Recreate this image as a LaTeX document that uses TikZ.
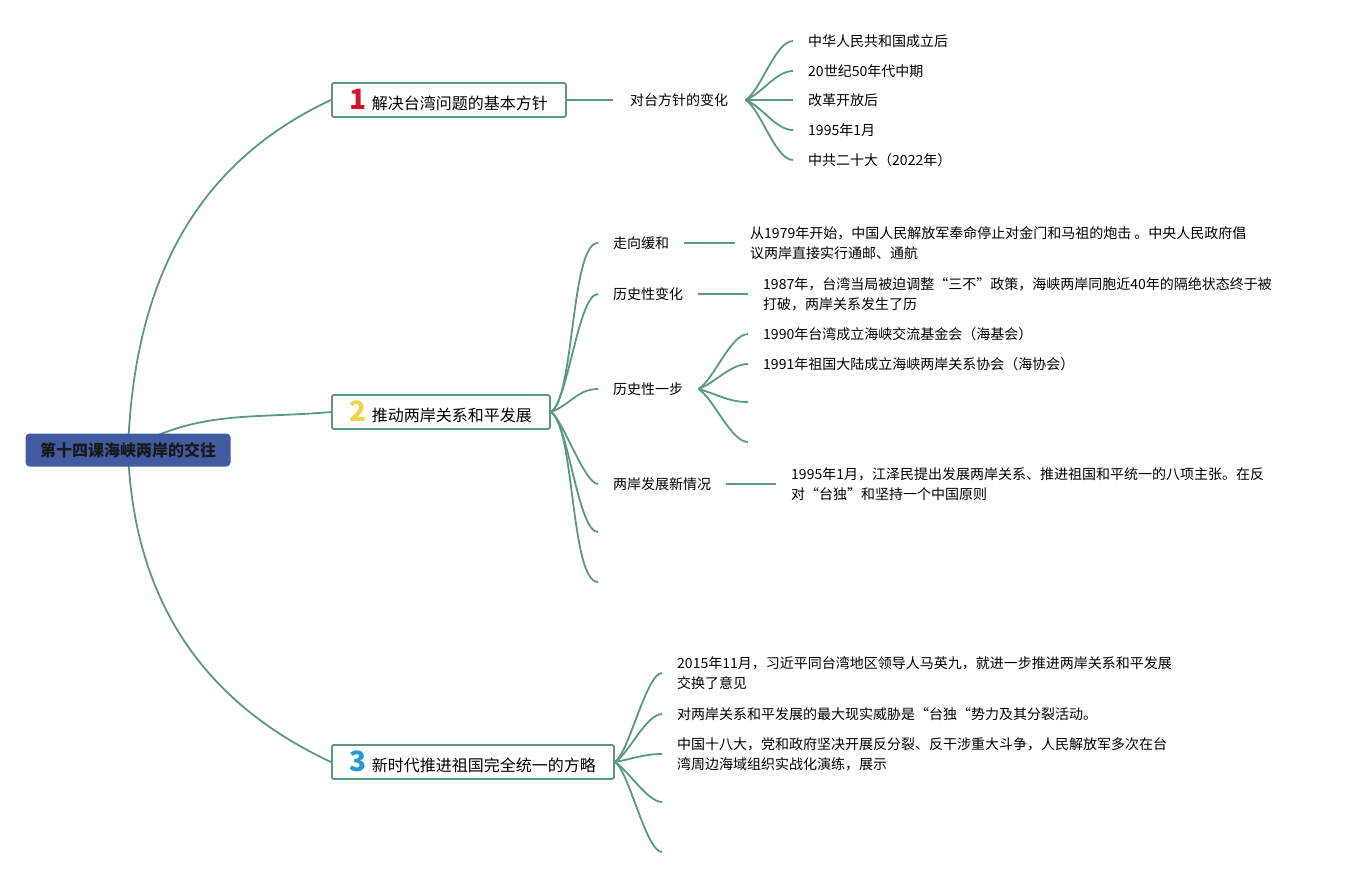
\documentclass[tikz,border=0pt]{standalone}
\usepackage{fontspec}
\setmainfont{Noto Sans CJK SC}
\usetikzlibrary{backgrounds}

\definecolor{linegreen}{RGB}{90,152,130}
\definecolor{rootblue}{RGB}{66,90,160}
\definecolor{numred}{RGB}{208,20,43}
\definecolor{numyellow}{RGB}{240,212,78}
\definecolor{numblue}{RGB}{38,152,216}
\newcommand{\topicnum}[2]{{\fontsize{28}{28}\selectfont\bfseries\color{#1}#2}\hspace{5pt}}

\begin{document}
\begin{tikzpicture}[x=1pt,y=1pt,
	root/.style={rectangle, rounded corners=4pt, fill=rootblue, text=black!90, font=\fontsize{16}{16}\selectfont\bfseries, minimum width=205pt, minimum height=33pt},
	topic/.style={rectangle, draw=linegreen, line width=1.8pt, fill=white, rounded corners=1.5pt, font=\fontsize{16}{20}\selectfont, minimum height=34pt, inner xsep=18pt, inner ysep=2pt, anchor=west},
	leaf/.style={font=\fontsize{14}{20}\selectfont, inner xsep=15pt, inner ysep=0pt, anchor=west, align=left},
	conn/.style={linegreen, line width=1.8pt},
	fan/.style={in=180, looseness=0.4}]
	\useasboundingbox (0,0) rectangle (1351,-878);

	\node[root] (0) at (128,-450) {第十四课海峡两岸的交往};
	\node[topic] (1) at (331,-100) {\topicnum{numred}{1}解决台湾问题的基本方针};
	\node[topic] (2) at (331,-412) {\topicnum{numyellow}{2}推动两岸关系和平发展};
	\node[topic] (3) at (331,-762) {\topicnum{numblue}{3}新时代推进祖国完全统一的方略};

	\node[leaf, inner xsep=17pt] (1-1) at (613,-100) {对台方针的变化};
	\node[leaf] (1-1-1) at (793,-41) {中华人民共和国成立后};
	\node[leaf] (1-1-2) at (793,-71) {20世纪50年代中期};
	\node[leaf] (1-1-3) at (793,-100) {改革开放后};
	\node[leaf] (1-1-4) at (793,-130) {1995年1月};
	\node[leaf] (1-1-5) at (793,-160) {中共二十大（2022年）};

	\node[leaf] (2-1) at (598,-243) {走向缓和};
	\node[leaf] (2-1-1) at (735,-243) {从1979年开始，中国人民解放军奉命停止对金门和马祖的炮击 。中央人民政府倡\\议两岸直接实行通邮、通航};
	\node[leaf] (2-2) at (598,-294) {历史性变化};
	\node[leaf] (2-2-1) at (748,-294) {1987年，台湾当局被迫调整“三不”政策，海峡两岸同胞近40年的隔绝状态终于被\\打破，两岸关系发生了历};
	\node[leaf] (2-3) at (598,-389) {历史性一步};
	\node[leaf] (2-3-1) at (748,-334) {1990年台湾成立海峡交流基金会（海基会）};
	\node[leaf] (2-3-2) at (748,-364) {1991年祖国大陆成立海峡两岸关系协会（海协会）};
	\coordinate (2-3-3) at (748,-402);
	\coordinate (2-3-4) at (748,-442);
	\node[leaf] (2-4) at (598,-484) {两岸发展新情况};
	\node[leaf] (2-4-1) at (776,-484) {1995年1月，江泽民提出发展两岸关系、推进祖国和平统一的八项主张。在反\\对“台独”和坚持一个中国原则};
	\coordinate (2-5) at (598,-532);
	\coordinate (2-6) at (598,-582);

	\node[leaf] (3-1) at (662,-673) {2015年11月，习近平同台湾地区领导人马英九，就进一步推进两岸关系和平发展\\交换了意见};
	\node[leaf] (3-2) at (662,-714) {对两岸关系和平发展的最大现实威胁是“台独“势力及其分裂活动。};
	\node[leaf] (3-3) at (662,-754) {中国十八大，党和政府坚决开展反分裂、反干涉重大斗争，人民解放军多次在台\\湾周边海域组织实战化演练，展示};
	\coordinate (3-4) at (662,-802);
	\coordinate (3-5) at (662,-852);

	\begin{scope}[on background layer]
	% root
	\draw[conn] (0.center) to [out=88,in=205] (1.west);
	\draw[conn] (0.center) to [out=30,in=185] (2.west);
	\draw[conn] (0.center) to [out=-88,in=155] (3.west);
	\end{scope}
	% topic 1
	\draw[conn] (1.east) -- (1-1.west);
	\draw[conn] (1-1.east) to [fan,out=30,looseness=0.6] (1-1-1.west);
	\draw[conn] (1-1.east) to [fan,out=20,looseness=0.8] (1-1-2.west);
	\draw[conn] (1-1.east) -- (1-1-3.west);
	\draw[conn] (1-1.east) to [fan,out=-20,looseness=0.8] (1-1-4.west);
	\draw[conn] (1-1.east) to [fan,out=-30,looseness=0.6] (1-1-5.west);
	% topic 2
	\draw[conn] (2.east) to [fan,out=30] (2-1.west);
	\draw[conn] (2.east) to [fan,out=30] (2-2.west);
	\draw[conn] (2.east) to [fan,out=20,looseness=1] (2-3.west);
	\draw[conn] (2.east) to [fan,out=-30] (2-4.west);
	\draw[conn] (2.east) to [fan,out=-30] (2-5);
	\draw[conn] (2.east) to [fan,out=-30] (2-6);
	\draw[conn] (2-1.east) -- (2-1-1.west);
	\draw[conn] (2-2.east) -- (2-2-1.west);
	\draw[conn] (2-3.east) to [fan,out=30,looseness=0.6] (2-3-1.west);
	\draw[conn] (2-3.east) to [fan,out=20,looseness=0.8] (2-3-2.west);
	\draw[conn] (2-3.east) to [fan,out=-15,looseness=1] (2-3-3);
	\draw[conn] (2-3.east) to [fan,out=-30,looseness=0.6] (2-3-4);
	\draw[conn] (2-4.east) -- (2-4-1.west);
	% topic 3
	\draw[conn] (3.east) to [fan,out=30] (3-1.west);
	\draw[conn] (3.east) to [fan,out=30,looseness=0.6] (3-2.west);
	\draw[conn] (3.east) to [fan,out=10,looseness=1] (3-3.west);
	\draw[conn] (3.east) to [fan,out=-30,looseness=0.6] (3-4);
	\draw[conn] (3.east) to [fan,out=-30] (3-5);
\end{tikzpicture}
\end{document}
